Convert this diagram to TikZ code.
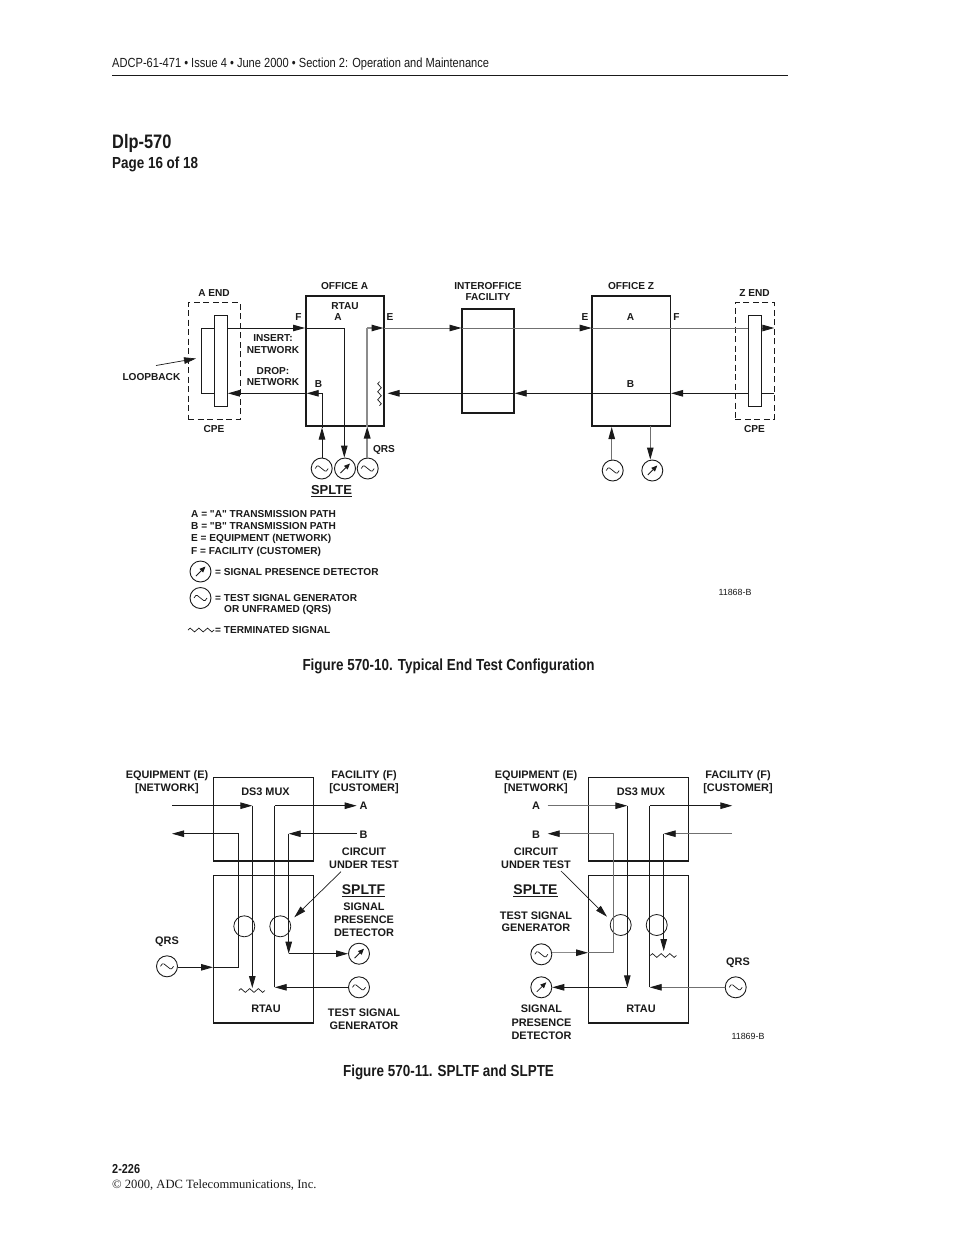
\documentclass[tikz,border=0pt]{standalone}
\usepackage{fontspec}
\setmainfont{Liberation Sans}
\newfontfamily\condb[FakeStretch=0.84]{Liberation Sans}
\newfontfamily\serifb{Liberation Serif}
\newfontfamily\rawq{Liberation Sans}
\newcommand{\qq}{{\rawq "}}
\usetikzlibrary{arrows.meta}
\definecolor{ink}{HTML}{1A1A1A}
\definecolor{wiregray}{HTML}{707070}
\newcommand{\ulb}[1]{\vtop{\hbox{#1}\kern1.2pt\hrule height 1.2pt}}
\tikzset{
  x=1pt,y=-1pt,
  tri/.tip={Triangle[length=12pt,width=6.5pt,color=ink]},
  wire/.style={draw=ink,line width=0.9pt},
  midwire/.style={draw=wiregray,line width=0.9pt},
  graywire/.style={draw=black!45,line width=1.5pt},
  thinbox/.style={draw=ink,line width=1.3pt,fill=none},
  heavybox/.style={draw=ink,line width=1.7pt},
  dashbox/.style={draw=ink,line width=0.8pt,dash pattern=on 6pt off 3.5pt},
  lab/.style={font=\fontsize{10.1}{12}\selectfont\bfseries,text=ink,align=center,inner sep=0pt,yshift=-1pt},
  labb/.style={font=\fontsize{10.9}{13}\selectfont\bfseries,text=ink,align=center,inner sep=0pt,yshift=-1pt},
  big/.style={font=\fontsize{14}{15}\selectfont\bfseries,text=ink,inner sep=0pt,yshift=-1pt},
  legend/.style={lab,align=left,anchor=west},
  symb/.style={circle,draw=ink,line width=0.9pt,minimum size=21pt,inner sep=0pt},
  ring/.style={circle,draw=ink,line width=0.8pt,minimum size=21pt,inner sep=0pt},
  head/.style={font=\condb\fontsize{13.2}{15}\selectfont,text=ink,anchor=west,inner sep=0pt,yshift=-1pt},
  title/.style={text=ink,anchor=west,inner sep=0pt,yshift=-1pt},
}
\newcommand{\gensym}[2]{\node[symb] (#1) at (#2) {};
  \draw[draw=ink,line width=0.7pt] ([xshift=-6.5pt]#1.center) .. controls +(2.5,-5.5) and +(-2,-1) .. (#1.center) .. controls +(2,1) and +(-2.5,5.5) .. ([xshift=6.5pt]#1.center);}
\newcommand{\detsym}[2]{\node[symb] (#1) at (#2) {};
  \draw[draw=ink,line width=0.8pt,-{Triangle[length=6pt,width=5pt]}] ([shift={(-4.5,4.5)}]#1.center) -- ([shift={(5,-5)}]#1.center);}
\newcommand{\hwave}[1]{\draw[draw=ink,line width=0.7pt] (#1) ++(-13,0) sin +(2.17,-1.9) cos +(2.17,1.9) sin +(2.17,1.9) cos +(2.17,-1.9) sin +(2.17,-1.9) cos +(2.17,1.9) sin +(2.17,1.9) cos +(2.17,-1.9) sin +(2.17,-1.9) cos +(2.17,1.9) sin +(2.17,1.9) cos +(2.17,-1.9);}
\begin{document}
\begin{tikzpicture}
\useasboundingbox (0,0) rectangle (954,1235);
\fill[white] (0,0) rectangle (954,1235);
% page furniture
\node[head] (hd) at (112,63) {ADCP-61-471 • Issue 4 • June 2000 • Section 2: Operation and Maintenance};
\coordinate (ruleL) at (112,75); \coordinate (ruleR) at (788,75);
\draw[draw=ink,line width=1pt] (ruleL) -- (ruleR);
\node[title,font=\condb\fontsize{19.5}{22}\selectfont\bfseries] (dlp) at (112,142) {Dlp-570};
\node[title,font=\condb\fontsize{16}{18}\selectfont\bfseries] (pg) at (112,163) {Page 16 of 18};
\node[title,font=\condb\fontsize{16}{18}\selectfont\bfseries,anchor=center] (cap1) at (448.5,665.5) {Figure 570-10. Typical End Test Configuration};
\node[title,font=\condb\fontsize{16}{18}\selectfont\bfseries,anchor=center] (cap2) at (448.5,1071) {Figure 570-11. SPLTF and SLPTE};
\node[title,font=\condb\fontsize{13}{14}\selectfont\bfseries] (pn) at (112,1168) {2-226};
\node[anchor=west,inner sep=0pt,font=\serifb\fontsize{12.6}{14}\selectfont,text=ink,yshift=-1pt] (cr) at (112,1184.5) {© 2000, ADC Telecommunications, Inc.};

%%% FIGURE 570-10
\node[dashbox,minimum width=52pt,minimum height=116.6pt,inner sep=0pt] (aend) at (214,361) {};
\node[dashbox,minimum width=39pt,minimum height=116.6pt,inner sep=0pt] (zend) at (754.8,361) {};
\node[heavybox,minimum width=78.3pt,minimum height=129.7pt,inner sep=0pt] (ofa) at (344.9,360.9) {};
\node[heavybox,minimum width=78.3pt,minimum height=129.7pt,inner sep=0pt] (ofz) at (631.2,360.9) {};
\node[heavybox,minimum width=52pt,minimum height=104.6pt,inner sep=0pt] (iof) at (488,361) {};
% CPE loop A
\coordinate (lpA) at (220,328); \coordinate (lpAl) at (201.7,328); \coordinate (lpBl) at (201.7,393.3); \coordinate (lpB) at (220,393.3);
\draw[wire] (lpA) -- (lpAl) -- (lpBl) -- (lpB);
\node[draw=ink,line width=1.1pt,fill=white,minimum width=13pt,minimum height=91pt,inner sep=0pt] (cpeA) at (220.8,360.8) {};
\node[draw=ink,line width=1.1pt,fill=white,minimum width=13.4pt,minimum height=91pt,inner sep=0pt] (cpeZ) at (755,360.8) {};
% symbols
\gensym{g1}{321.7,468.5} \detsym{d1}{345,468.5} \gensym{q1}{367.7,468.5}
\gensym{g2}{612.7,470.5} \detsym{d2}{652.3,470.5}
% A path
\coordinate (aTipF) at (305,328); \coordinate (aCnr) at (344.3,328);
\draw[wire,-{tri}] (cpeA.east |- aTipF) -- (aTipF);
\draw[wire] (aTipF) -- (aCnr);
\draw[wire,-{tri}] (aCnr) -- (aCnr |- d1.north);
% B path
\coordinate (bCnr) at (322,393.3); \coordinate (bTip1) at (306.7,393.3); \coordinate (bTipU) at (322,427.5);
\draw[wire,-{tri}] (bTipU |- g1.north) -- (bTipU);
\draw[wire] (bTipU) -- (bCnr);
\draw[wire,-{tri}] (bCnr) -- (bTip1);
\draw[wire,-{tri}] (bTip1) -- (cpeA.east |- bTip1);
% gray QRS path
\coordinate (qCnr) at (367.2,328); \coordinate (qTipU) at (367.2,426.5); \coordinate (qTipR) at (383.5,328);
\coordinate (iofTipA) at (461.5,328); \coordinate (zTipE) at (591.7,328); \coordinate (zEnd) at (774.3,328);
\draw[graywire,-{tri}] (qTipU |- q1.north) -- (qTipU);
\draw[graywire] (qTipU) -- (qCnr);
\draw[graywire,line width=1.2pt,-{tri}] (qCnr) -- (qTipR);
\draw[midwire,-{tri}] (qTipR) -- (iofTipA);
\draw[midwire,-{tri}] (iofTipA) -- (zTipE);
\draw[midwire] (zTipE) -- (cpeZ.west |- zTipE);
\coordinate (zArrSt) at (cpeZ.east |- zTipE);
\draw[midwire,-{tri}] (zArrSt) -- (zEnd);
% return B path
\coordinate (rTipZ) at (671,393.3); \coordinate (rTipI) at (514.7,393.3); \coordinate (rTipA) at (387.5,393.3); \coordinate (rEnd) at (774.3,393.3);
\draw[wire] (rEnd) -- (cpeZ.east |- rEnd);
\draw[wire,-{tri}] (cpeZ.west |- rEnd) -- (rTipZ);
\draw[wire,-{tri}] (rTipZ) -- (rTipI);
\draw[wire,-{tri}] (rTipI) -- (rTipA);
\coordinate (term1) at (379.5,381.7);
\draw[draw=ink,line width=0.7pt] (term1)
  .. controls +(-2.4,1.3) and +(-2.4,-1.3) .. +(0,4)
  .. controls +(2.4,1.3) and +(2.4,-1.3) .. +(0,8)
  .. controls +(-2.4,1.3) and +(-2.4,-1.3) .. +(0,12)
  .. controls +(2.4,1.3) and +(2.4,-1.3) .. +(0,16)
  .. controls +(-2.4,1.3) and +(-2.4,-1.3) .. +(0,20)
  .. controls +(2.4,1.3) and +(2.4,-1.3) .. +(0,24);
% Z side arrows
\coordinate (zU) at (611.7,427); \coordinate (zD) at (650.3,426);
\draw[midwire,-{tri}] (zU |- g2.north) -- (zU);
\draw[midwire,-{tri}] (zD) -- (zD |- d2.north);
% loopback
\node[lab,anchor=east] (lbk) at (180.5,376.5) {LOOPBACK};
\coordinate (lbS) at (156,365.5); \coordinate (lbE) at (196,358.5);
\draw[wire,line width=0.7pt,-{tri}] (lbS) -- (lbE);
% labels
\node[lab] at (214,292) {A END};
\node[lab] at (214,428) {CPE};
\node[lab] at (344.7,285) {OFFICE A};
\node[lab] at (345,305) {RTAU};
\node[lab] at (298.5,316) {F};
\node[lab] at (338,316) {A};
\node[lab] at (390,316) {E};
\node[lab] at (273,343) {INSERT:\\[-0.4pt]NETWORK};
\node[lab] at (273,375.5) {DROP:\\[-0.4pt]NETWORK};
\node[lab] at (318.5,383) {B};
\node[lab] at (384,448.5) {QRS};
\node[big,font=\fontsize{13}{15}\selectfont\bfseries] (sp1) at (331.5,490) {\ulb{SPLTE}};
\node[lab] at (488,290.5) {INTEROFFICE\\[-0.4pt]FACILITY};
\node[lab] at (631,285) {OFFICE Z};
\node[lab] at (585,316) {E};
\node[lab] at (630.5,316) {A};
\node[lab] at (676.5,316) {F};
\node[lab] at (630.5,383) {B};
\node[lab] at (754.5,292) {Z END};
\node[lab] at (754.5,428) {CPE};
% legend
\node[legend] at (191,513) {A = \qq A\qq{} TRANSMISSION PATH};
\node[legend] at (191,525) {B = \qq B\qq{} TRANSMISSION PATH};
\node[legend] at (191,538) {E = EQUIPMENT (NETWORK)};
\node[legend] at (191,551) {F = FACILITY (CUSTOMER)};
\detsym{ld}{200.5,571.5}
\node[legend] at (215,571) {= SIGNAL PRESENCE DETECTOR};
\gensym{lg}{200.5,598}
\node[legend] at (215,597) {= TEST SIGNAL GENERATOR};
\node[legend] at (224,609) {OR UNFRAMED (QRS)};
\coordinate (lw) at (201,630);
\hwave{lw}
\node[legend] at (215,629) {= TERMINATED SIGNAL};
\node[font=\fontsize{8.9}{10}\selectfont,text=ink,inner sep=0pt,yshift=-0.5pt] at (735,591.5) {11868-B};

%%% FIGURE 570-11 left
\node[thinbox,minimum width=100pt,minimum height=83.3pt,inner sep=0pt] (muxL) at (263.3,819.3) {};
\node[thinbox,minimum width=100pt,minimum height=147.3pt,inner sep=0pt] (rtL) at (263.3,949.3) {};
\node[ring] (r1) at (244.3,926.3) {}; \node[ring] (r2) at (280.3,926.3) {};
\gensym{qL}{167,966.3} \detsym{dL}{359,953.7} \gensym{gL}{359,987.3}
\coordinate (lA0) at (172,805.7); \coordinate (lAc) at (252.3,805.7); \coordinate (lAt) at (252.3,988);
\draw[wire,-{tri}] (lA0) -- (lAc);
\draw[wire,-{tri}] (lAc) -- (lAt);
\coordinate (wvL) at (251.8,990.5);
\hwave{wvL}
\coordinate (lB0) at (172,833.7); \coordinate (lBc) at (238.7,833.7); \coordinate (lBb) at (238.7,967.3); \coordinate (lBt) at (213,967.3);
\draw[wire,-{tri}] (lBc) -- (lB0);
\draw[wire] (lBc) -- (lBb);
\draw[wire,-{tri}] (qL.east |- lBb) -- (lBt |- lBb);
\draw[wire] (lBt) -- (lBb);
\coordinate (lCb) at (274.7,987.3); \coordinate (lCt) at (274.7,805.7); \coordinate (lCe) at (356.7,805.7); 
\draw[wire,-{tri}] (gL.west) -- (lCb);
\draw[wire] (lCb) -- (lCt);
\draw[wire,-{tri}] (lCt) -- (lCe);
\coordinate (lDs) at (357,833.7); \coordinate (lDc) at (288.7,833.7); \coordinate (lDb) at (288.7,953.7);
\draw[wire,-{tri}] (lDs) -- (lDc);
\draw[wire,-{tri}] (lDc) -- (lDb);
\draw[wire,-{tri}] (lDb) -- (dL.west);
\coordinate (lLs) at (341,871.7); \coordinate (lLe) at (294.3,917.3);
\draw[wire,line width=0.7pt,-{tri}] (lLs) -- (lLe);
\node[labb] at (167,774.5) {EQUIPMENT (E)};
\node[labb] at (167,787.5) {[NETWORK]};
\node[labb] at (364,774.5) {FACILITY (F)};
\node[labb] at (364,787.5) {[CUSTOMER]};
\node[labb] at (265.5,790.5) {DS3 MUX};
\node[labb] at (363.5,805) {A};
\node[labb] at (363.5,833.5) {B};
\node[labb] at (364,850.5) {CIRCUIT};
\node[labb] at (364,863.5) {UNDER TEST};
\node[big] at (363.5,890) {\ulb{SPLTF}};
\node[labb] at (364,905.5) {SIGNAL};
\node[labb] at (364,918.5) {PRESENCE};
\node[labb] at (364,931.5) {DETECTOR};
\node[labb] at (167,940.5) {QRS};
\node[labb] at (266,1007.5) {RTAU};
\node[labb] at (364,1011.5) {TEST SIGNAL};
\node[labb] at (364,1024.5) {GENERATOR};

%%% FIGURE 570-11 right
\node[thinbox,minimum width=100pt,minimum height=83.3pt,inner sep=0pt] (muxR) at (638.3,819.3) {};
\node[thinbox,minimum width=100pt,minimum height=147.3pt,inner sep=0pt] (rtR) at (638.3,949.3) {};
\node[ring] (r3) at (620.7,925) {}; \node[ring] (r4) at (656.7,925) {};
\gensym{gR}{541.3,954.3} \detsym{dR}{541.3,987.3} \gensym{qR}{735.7,987.3}
\coordinate (rA0) at (547.7,805.7); \coordinate (rAc) at (627.3,805.7); \coordinate (rAb) at (627.3,987.3);
\draw[midwire,-{tri}] (rA0) -- (rAc);
\draw[wire,-{tri}] (rAc) -- (rAb);
\draw[wire,-{tri}] (rAb) -- (dR.east);
\coordinate (rBc) at (613.7,833.7); \coordinate (rB0) at (547.7,833.7); \coordinate (rBb) at (613.7,952.7); \coordinate (rBt) at (588,952.7);
\draw[midwire,-{tri}] (rBc) -- (rB0);
\draw[midwire] (rBc) -- (rBb);
\draw[midwire] (rBb) -- (rBt);
\draw[graywire,line width=1.2pt,-{tri}] (gR.east |- rBt) -- (rBt);
\coordinate (rCb) at (649.7,987.3); \coordinate (rCt) at (649.7,805.7); \coordinate (rCe) at (732.3,805.7);
\draw[midwire,-{tri}] (qR.west) -- (rCb);
\draw[wire] (rCb) -- (rCt);
\draw[wire,-{tri}] (rCt) -- (rCe);
\coordinate (rDs) at (731.7,833.7); \coordinate (rDc) at (663.7,833.7); \coordinate (rDb) at (663.7,951);
\draw[midwire,-{tri}] (rDs) -- (rDc);
\draw[wire,-{tri}] (rDc) -- (rDb);
\coordinate (wvR) at (663.3,955.5);
\hwave{wvR}
\coordinate (rLs) at (561,871); \coordinate (rLe) at (607,916.7);
\draw[wire,line width=0.7pt,-{tri}] (rLs) -- (rLe);
\node[labb] at (536,774.5) {EQUIPMENT (E)};
\node[labb] at (536,787.5) {[NETWORK]};
\node[labb] at (738,774.5) {FACILITY (F)};
\node[labb] at (738,787.5) {[CUSTOMER]};
\node[labb] at (641,790.5) {DS3 MUX};
\node[labb] at (536,805) {A};
\node[labb] at (536,833.5) {B};
\node[labb] at (536,850.5) {CIRCUIT};
\node[labb] at (536,863.5) {UNDER TEST};
\node[big] at (535.5,890) {\ulb{SPLTE}};
\node[labb] at (536,914.5) {TEST SIGNAL};
\node[labb] at (536,927) {GENERATOR};
\node[labb] at (541.5,1007.5) {SIGNAL};
\node[labb] at (541.5,1021.5) {PRESENCE};
\node[labb] at (541.5,1034.5) {DETECTOR};
\node[labb] at (641,1007.5) {RTAU};
\node[labb] at (738,961.5) {QRS};
\node[font=\fontsize{8.9}{10}\selectfont,text=ink,inner sep=0pt,yshift=-0.5pt] at (748,1036) {11869-B};
\end{tikzpicture}
\end{document}
